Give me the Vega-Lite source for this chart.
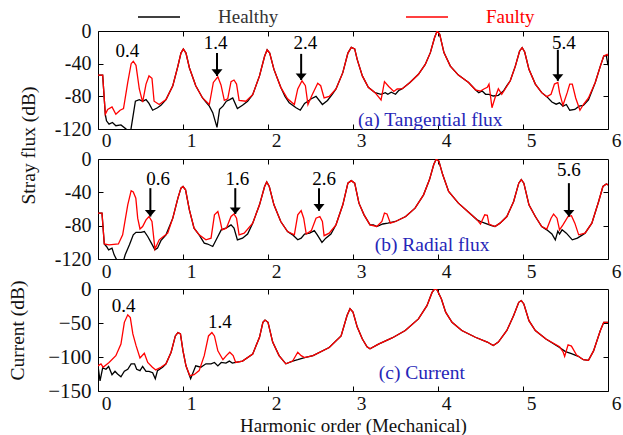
{
  "$schema": "https://vega.github.io/schema/vega-lite/v6.json",
  "background": "white",
  "padding": {"left": 6, "top": 7, "right": 0, "bottom": 0},
  "spacing": 30,
  "bounds": "flush",
  "config": {
    "font": "Liberation Serif",
    "view": {"stroke": "#000000", "strokeWidth": 1},
    "axis": {"domain": false, "grid": false, "ticks": true, "tickSize": -5, "tickColor": "#000000", "labelFont": "Liberation Serif", "labelFontSize": 19.5, "labelColor": "#111111", "titleFont": "Liberation Serif", "titleFontSize": 19.5, "titleFontWeight": "normal", "titleColor": "#111111"},
    "text": {"font": "Liberation Serif"}
  },
  "datasets": {
    "aF": [{"x":0,"y":-54},{"x":0.055,"y":-54},{"x":0.086,"y":-102},{"x":0.114,"y":-96},{"x":0.165,"y":-93},{"x":0.21,"y":-102},{"x":0.26,"y":-97},{"x":0.3,"y":-95},{"x":0.35,"y":-63},{"x":0.39,"y":-40},{"x":0.415,"y":-37},{"x":0.447,"y":-42},{"x":0.486,"y":-71},{"x":0.525,"y":-87},{"x":0.565,"y":-65},{"x":0.6,"y":-55},{"x":0.635,"y":-58},{"x":0.66,"y":-86},{"x":0.72,"y":-90},{"x":0.8,"y":-84},{"x":0.88,"y":-67},{"x":0.94,"y":-43},{"x":0.976,"y":-27},{"x":1.004,"y":-22},{"x":1.035,"y":-27},{"x":1.075,"y":-45},{"x":1.15,"y":-67},{"x":1.23,"y":-82},{"x":1.31,"y":-90},{"x":1.357,"y":-63},{"x":1.41,"y":-56},{"x":1.447,"y":-66},{"x":1.486,"y":-85},{"x":1.526,"y":-83},{"x":1.565,"y":-62},{"x":1.6,"y":-60},{"x":1.63,"y":-65},{"x":1.66,"y":-85},{"x":1.74,"y":-86},{"x":1.82,"y":-78},{"x":1.9,"y":-55},{"x":1.96,"y":-31},{"x":1.99,"y":-23},{"x":2.02,"y":-27},{"x":2.07,"y":-47},{"x":2.15,"y":-69},{"x":2.23,"y":-83},{"x":2.31,"y":-90},{"x":2.35,"y":-71},{"x":2.4,"y":-61},{"x":2.44,"y":-67},{"x":2.47,"y":-90},{"x":2.52,"y":-78},{"x":2.585,"y":-64},{"x":2.62,"y":-67},{"x":2.66,"y":-82},{"x":2.72,"y":-80},{"x":2.8,"y":-71},{"x":2.88,"y":-51},{"x":2.94,"y":-27},{"x":2.98,"y":-20},{"x":3.02,"y":-22},{"x":3.05,"y":-35},{"x":3.11,"y":-55},{"x":3.18,"y":-69},{"x":3.26,"y":-75.5},{"x":3.33,"y":-84.5},{"x":3.37,"y":-62},{"x":3.42,"y":-68},{"x":3.48,"y":-74},{"x":3.52,"y":-71},{"x":3.58,"y":-70.6},{"x":3.67,"y":-63},{"x":3.77,"y":-53},{"x":3.85,"y":-41},{"x":3.91,"y":-26.5},{"x":3.96,"y":-8},{"x":3.99,"y":0},{"x":4.02,"y":-4},{"x":4.07,"y":-26.5},{"x":4.145,"y":-43},{"x":4.24,"y":-54},{"x":4.36,"y":-63},{"x":4.44,"y":-72},{"x":4.5,"y":-73.5},{"x":4.54,"y":-71},{"x":4.58,"y":-69},{"x":4.6,"y":-65},{"x":4.635,"y":-94},{"x":4.67,"y":-82},{"x":4.71,"y":-70.6},{"x":4.75,"y":-77.5},{"x":4.79,"y":-71},{"x":4.85,"y":-61},{"x":4.91,"y":-43},{"x":4.96,"y":-24.5},{"x":4.99,"y":-20.4},{"x":5.02,"y":-25.7},{"x":5.07,"y":-47},{"x":5.145,"y":-65},{"x":5.22,"y":-75.5},{"x":5.28,"y":-80.4},{"x":5.33,"y":-77.5},{"x":5.37,"y":-65},{"x":5.41,"y":-63},{"x":5.43,"y":-75.5},{"x":5.47,"y":-91},{"x":5.52,"y":-75.5},{"x":5.55,"y":-65},{"x":5.58,"y":-65},{"x":5.62,"y":-82},{"x":5.67,"y":-97},{"x":5.71,"y":-90},{"x":5.77,"y":-82},{"x":5.85,"y":-63},{"x":5.91,"y":-43},{"x":5.95,"y":-30.6},{"x":5.99,"y":-28.6},{"x":6,"y":-31}],
    "aH": [{"x":0,"y":-54},{"x":0.055,"y":-54},{"x":0.086,"y":-102},{"x":0.1,"y":-110},{"x":0.13,"y":-114},{"x":0.17,"y":-112},{"x":0.21,"y":-116},{"x":0.27,"y":-115},{"x":0.33,"y":-120},{"x":0.36,"y":-126},{"x":0.385,"y":-122},{"x":0.44,"y":-86},{"x":0.486,"y":-84},{"x":0.525,"y":-86},{"x":0.565,"y":-84},{"x":0.6,"y":-88.6},{"x":0.643,"y":-97},{"x":0.7,"y":-94},{"x":0.74,"y":-91},{"x":0.8,"y":-84},{"x":0.88,"y":-67},{"x":0.94,"y":-43},{"x":0.976,"y":-27},{"x":1.004,"y":-22},{"x":1.035,"y":-27},{"x":1.075,"y":-45},{"x":1.15,"y":-67},{"x":1.23,"y":-82},{"x":1.27,"y":-87},{"x":1.31,"y":-92},{"x":1.35,"y":-100},{"x":1.4,"y":-118},{"x":1.43,"y":-96},{"x":1.47,"y":-92},{"x":1.51,"y":-86},{"x":1.55,"y":-84},{"x":1.585,"y":-82},{"x":1.64,"y":-95},{"x":1.7,"y":-91},{"x":1.76,"y":-86},{"x":1.82,"y":-78},{"x":1.9,"y":-55},{"x":1.96,"y":-31},{"x":1.99,"y":-23},{"x":2.02,"y":-27},{"x":2.07,"y":-47},{"x":2.15,"y":-69},{"x":2.2,"y":-80},{"x":2.25,"y":-88},{"x":2.33,"y":-94},{"x":2.38,"y":-97},{"x":2.43,"y":-88.6},{"x":2.47,"y":-86},{"x":2.51,"y":-83},{"x":2.565,"y":-80},{"x":2.64,"y":-90},{"x":2.7,"y":-85},{"x":2.76,"y":-77},{"x":2.8,"y":-71},{"x":2.88,"y":-51},{"x":2.94,"y":-27},{"x":2.98,"y":-20},{"x":3.02,"y":-22},{"x":3.05,"y":-35},{"x":3.11,"y":-55},{"x":3.18,"y":-69},{"x":3.26,"y":-75.5},{"x":3.33,"y":-77.5},{"x":3.38,"y":-75.5},{"x":3.41,"y":-77.5},{"x":3.45,"y":-75},{"x":3.5,"y":-77.5},{"x":3.54,"y":-72.6},{"x":3.58,"y":-70.6},{"x":3.67,"y":-63},{"x":3.77,"y":-53},{"x":3.85,"y":-41},{"x":3.91,"y":-26.5},{"x":3.96,"y":-8},{"x":3.99,"y":0},{"x":4.02,"y":-4},{"x":4.07,"y":-26.5},{"x":4.145,"y":-43},{"x":4.24,"y":-54},{"x":4.36,"y":-63},{"x":4.44,"y":-72},{"x":4.48,"y":-75.5},{"x":4.52,"y":-73.5},{"x":4.56,"y":-77.5},{"x":4.6,"y":-77.5},{"x":4.65,"y":-79.6},{"x":4.71,"y":-78.8},{"x":4.77,"y":-73.5},{"x":4.81,"y":-67},{"x":4.85,"y":-61},{"x":4.91,"y":-43},{"x":4.96,"y":-24.5},{"x":4.99,"y":-20.4},{"x":5.02,"y":-25.7},{"x":5.07,"y":-47},{"x":5.145,"y":-65},{"x":5.22,"y":-75.5},{"x":5.28,"y":-80.4},{"x":5.34,"y":-87},{"x":5.39,"y":-89.6},{"x":5.43,"y":-88},{"x":5.47,"y":-92},{"x":5.51,"y":-90},{"x":5.55,"y":-97},{"x":5.61,"y":-96},{"x":5.66,"y":-92},{"x":5.71,"y":-91},{"x":5.77,"y":-84.5},{"x":5.85,"y":-63},{"x":5.91,"y":-43},{"x":5.95,"y":-30.6},{"x":5.98,"y":-30},{"x":6,"y":-42}],
    "bF": [{"x":0,"y":-65},{"x":0.047,"y":-65},{"x":0.074,"y":-102},{"x":0.13,"y":-103},{"x":0.24,"y":-102},{"x":0.29,"y":-91},{"x":0.35,"y":-55},{"x":0.39,"y":-38},{"x":0.415,"y":-39.6},{"x":0.445,"y":-47},{"x":0.467,"y":-71},{"x":0.494,"y":-84},{"x":0.525,"y":-81},{"x":0.565,"y":-73},{"x":0.6,"y":-69},{"x":0.635,"y":-75},{"x":0.67,"y":-108},{"x":0.72,"y":-97},{"x":0.77,"y":-93},{"x":0.82,"y":-89},{"x":0.88,"y":-71},{"x":0.94,"y":-47},{"x":0.976,"y":-35},{"x":1,"y":-33},{"x":1.03,"y":-37},{"x":1.075,"y":-61},{"x":1.13,"y":-83},{"x":1.19,"y":-91},{"x":1.27,"y":-97},{"x":1.33,"y":-95},{"x":1.37,"y":-67},{"x":1.41,"y":-63},{"x":1.435,"y":-73},{"x":1.46,"y":-85},{"x":1.51,"y":-83},{"x":1.565,"y":-69},{"x":1.6,"y":-66},{"x":1.63,"y":-71},{"x":1.66,"y":-91},{"x":1.72,"y":-89},{"x":1.82,"y":-77},{"x":1.9,"y":-55},{"x":1.96,"y":-33},{"x":1.985,"y":-27.5},{"x":2.015,"y":-33},{"x":2.07,"y":-55},{"x":2.15,"y":-75},{"x":2.23,"y":-87},{"x":2.31,"y":-91},{"x":2.35,"y":-67},{"x":2.39,"y":-62},{"x":2.42,"y":-71},{"x":2.45,"y":-90},{"x":2.51,"y":-86},{"x":2.565,"y":-71},{"x":2.61,"y":-69},{"x":2.64,"y":-75},{"x":2.66,"y":-92},{"x":2.72,"y":-89},{"x":2.8,"y":-79},{"x":2.88,"y":-55},{"x":2.94,"y":-29},{"x":2.98,"y":-26},{"x":3.02,"y":-29},{"x":3.07,"y":-53},{"x":3.13,"y":-67},{"x":3.2,"y":-79},{"x":3.28,"y":-81},{"x":3.34,"y":-75},{"x":3.37,"y":-65},{"x":3.4,"y":-66},{"x":3.44,"y":-77},{"x":3.5,"y":-75},{"x":3.62,"y":-69},{"x":3.73,"y":-59},{"x":3.83,"y":-43},{"x":3.9,"y":-24.7},{"x":3.95,"y":-6.6},{"x":3.98,"y":0},{"x":4.01,"y":-2.6},{"x":4.055,"y":-18.7},{"x":4.125,"y":-39},{"x":4.24,"y":-53},{"x":4.36,"y":-64},{"x":4.46,"y":-73},{"x":4.5,"y":-78},{"x":4.55,"y":-67},{"x":4.58,"y":-67.5},{"x":4.6,"y":-78},{"x":4.67,"y":-81},{"x":4.73,"y":-77},{"x":4.81,"y":-69},{"x":4.89,"y":-51},{"x":4.95,"y":-29},{"x":4.98,"y":-24.7},{"x":5.01,"y":-29},{"x":5.07,"y":-55},{"x":5.145,"y":-69},{"x":5.22,"y":-81},{"x":5.28,"y":-84},{"x":5.33,"y":-71},{"x":5.36,"y":-66},{"x":5.4,"y":-71},{"x":5.43,"y":-85},{"x":5.47,"y":-79},{"x":5.53,"y":-69},{"x":5.57,"y":-68},{"x":5.61,"y":-77},{"x":5.655,"y":-91},{"x":5.73,"y":-89},{"x":5.81,"y":-77},{"x":5.89,"y":-51},{"x":5.94,"y":-33},{"x":5.98,"y":-30},{"x":6,"y":-31}],
    "bH": [{"x":0,"y":-65},{"x":0.047,"y":-65},{"x":0.074,"y":-102},{"x":0.1,"y":-105},{"x":0.125,"y":-109},{"x":0.165,"y":-107},{"x":0.19,"y":-115},{"x":0.22,"y":-121},{"x":0.26,"y":-128},{"x":0.3,"y":-122},{"x":0.32,"y":-115},{"x":0.37,"y":-103},{"x":0.415,"y":-91},{"x":0.447,"y":-88},{"x":0.506,"y":-88},{"x":0.545,"y":-87},{"x":0.585,"y":-93},{"x":0.623,"y":-100},{"x":0.67,"y":-109},{"x":0.7,"y":-107},{"x":0.74,"y":-98},{"x":0.8,"y":-91},{"x":0.88,"y":-71},{"x":0.94,"y":-47},{"x":0.976,"y":-35},{"x":1,"y":-33},{"x":1.03,"y":-37},{"x":1.075,"y":-61},{"x":1.13,"y":-83},{"x":1.19,"y":-91},{"x":1.25,"y":-101},{"x":1.29,"y":-102},{"x":1.35,"y":-105},{"x":1.41,"y":-93},{"x":1.45,"y":-85},{"x":1.51,"y":-82.6},{"x":1.565,"y":-79},{"x":1.6,"y":-83},{"x":1.64,"y":-97},{"x":1.7,"y":-95},{"x":1.76,"y":-90},{"x":1.82,"y":-77},{"x":1.9,"y":-55},{"x":1.96,"y":-33},{"x":1.985,"y":-27.5},{"x":2.015,"y":-33},{"x":2.07,"y":-55},{"x":2.15,"y":-75},{"x":2.23,"y":-87},{"x":2.29,"y":-91},{"x":2.35,"y":-97},{"x":2.39,"y":-95},{"x":2.43,"y":-90},{"x":2.49,"y":-89},{"x":2.545,"y":-86},{"x":2.58,"y":-91},{"x":2.635,"y":-100},{"x":2.68,"y":-95},{"x":2.74,"y":-90},{"x":2.8,"y":-79},{"x":2.88,"y":-55},{"x":2.94,"y":-29},{"x":2.98,"y":-26},{"x":3.02,"y":-29},{"x":3.07,"y":-53},{"x":3.13,"y":-67},{"x":3.2,"y":-79},{"x":3.24,"y":-79},{"x":3.28,"y":-81},{"x":3.35,"y":-78},{"x":3.41,"y":-77},{"x":3.5,"y":-75},{"x":3.62,"y":-69},{"x":3.73,"y":-59},{"x":3.83,"y":-43},{"x":3.9,"y":-24.7},{"x":3.95,"y":-6.6},{"x":3.98,"y":0},{"x":4.01,"y":-2.6},{"x":4.055,"y":-18.7},{"x":4.125,"y":-39},{"x":4.24,"y":-53},{"x":4.36,"y":-64},{"x":4.46,"y":-73},{"x":4.5,"y":-75},{"x":4.55,"y":-77},{"x":4.63,"y":-80},{"x":4.67,"y":-81},{"x":4.73,"y":-77},{"x":4.81,"y":-69},{"x":4.89,"y":-51},{"x":4.95,"y":-29},{"x":4.98,"y":-24.7},{"x":5.01,"y":-29},{"x":5.07,"y":-55},{"x":5.145,"y":-69},{"x":5.22,"y":-81},{"x":5.28,"y":-85},{"x":5.34,"y":-90},{"x":5.38,"y":-97},{"x":5.41,"y":-86.6},{"x":5.43,"y":-90},{"x":5.46,"y":-85},{"x":5.51,"y":-89},{"x":5.58,"y":-97},{"x":5.64,"y":-95},{"x":5.7,"y":-91},{"x":5.73,"y":-89},{"x":5.81,"y":-77},{"x":5.89,"y":-51},{"x":5.94,"y":-33},{"x":5.98,"y":-30},{"x":6,"y":-31}],
    "cF": [{"x":0,"y":-113},{"x":0.035,"y":-110},{"x":0.06,"y":-115},{"x":0.13,"y":-108},{"x":0.21,"y":-98},{"x":0.27,"y":-81},{"x":0.31,"y":-49},{"x":0.35,"y":-38},{"x":0.38,"y":-42},{"x":0.41,"y":-66},{"x":0.447,"y":-83},{"x":0.494,"y":-101.5},{"x":0.545,"y":-94.6},{"x":0.585,"y":-108},{"x":0.64,"y":-115},{"x":0.68,"y":-119},{"x":0.74,"y":-115},{"x":0.8,"y":-110},{"x":0.86,"y":-93},{"x":0.91,"y":-69},{"x":0.94,"y":-64},{"x":0.97,"y":-66},{"x":1,"y":-91},{"x":1.035,"y":-113},{"x":1.08,"y":-127.5},{"x":1.13,"y":-126},{"x":1.19,"y":-120},{"x":1.25,"y":-98},{"x":1.3,"y":-69},{"x":1.34,"y":-64},{"x":1.37,"y":-69},{"x":1.41,"y":-91},{"x":1.47,"y":-104},{"x":1.51,"y":-98},{"x":1.55,"y":-93},{"x":1.59,"y":-98},{"x":1.62,"y":-108},{"x":1.7,"y":-106},{"x":1.82,"y":-95.6},{"x":1.9,"y":-71},{"x":1.94,"y":-49},{"x":1.965,"y":-45.6},{"x":2,"y":-49},{"x":2.055,"y":-78},{"x":2.13,"y":-98},{"x":2.21,"y":-110},{"x":2.29,"y":-106},{"x":2.35,"y":-93},{"x":2.39,"y":-98},{"x":2.43,"y":-101},{"x":2.53,"y":-98},{"x":2.72,"y":-86},{"x":2.86,"y":-69},{"x":2.93,"y":-39},{"x":2.965,"y":-29},{"x":3,"y":-34},{"x":3.05,"y":-56},{"x":3.11,"y":-73.5},{"x":3.165,"y":-85},{"x":3.2,"y":-88},{"x":3.3,"y":-81},{"x":3.46,"y":-72},{"x":3.615,"y":-61},{"x":3.77,"y":-44},{"x":3.87,"y":-24.5},{"x":3.93,"y":-5},{"x":3.96,"y":0},{"x":3.99,"y":-1.5},{"x":4.04,"y":-14.7},{"x":4.09,"y":-34},{"x":4.165,"y":-49},{"x":4.28,"y":-61},{"x":4.44,"y":-71},{"x":4.58,"y":-78},{"x":4.65,"y":-83},{"x":4.71,"y":-78},{"x":4.81,"y":-61},{"x":4.89,"y":-39},{"x":4.95,"y":-19.6},{"x":4.98,"y":-17},{"x":5.01,"y":-22},{"x":5.07,"y":-46.6},{"x":5.145,"y":-61},{"x":5.27,"y":-73.5},{"x":5.43,"y":-85},{"x":5.47,"y":-92},{"x":5.49,"y":-99},{"x":5.53,"y":-82},{"x":5.57,"y":-84},{"x":5.63,"y":-97},{"x":5.71,"y":-104},{"x":5.77,"y":-105},{"x":5.83,"y":-91},{"x":5.91,"y":-61},{"x":5.95,"y":-49},{"x":6,"y":-49}],
    "cH": [{"x":0,"y":-113},{"x":0.024,"y":-135},{"x":0.055,"y":-116},{"x":0.094,"y":-118},{"x":0.125,"y":-114},{"x":0.165,"y":-126},{"x":0.2,"y":-121},{"x":0.23,"y":-125},{"x":0.27,"y":-129},{"x":0.31,"y":-121},{"x":0.35,"y":-118},{"x":0.39,"y":-110},{"x":0.43,"y":-110},{"x":0.455,"y":-118},{"x":0.494,"y":-120},{"x":0.525,"y":-114},{"x":0.565,"y":-121},{"x":0.6,"y":-121},{"x":0.643,"y":-123},{"x":0.674,"y":-132},{"x":0.7,"y":-120},{"x":0.76,"y":-115},{"x":0.8,"y":-110},{"x":0.86,"y":-93},{"x":0.91,"y":-69},{"x":0.94,"y":-64},{"x":0.97,"y":-66},{"x":1,"y":-91},{"x":1.035,"y":-113},{"x":1.09,"y":-132},{"x":1.15,"y":-113},{"x":1.21,"y":-115},{"x":1.27,"y":-110},{"x":1.33,"y":-110},{"x":1.37,"y":-108},{"x":1.41,"y":-113},{"x":1.45,"y":-108},{"x":1.505,"y":-109},{"x":1.545,"y":-106},{"x":1.58,"y":-109},{"x":1.62,"y":-108},{"x":1.7,"y":-106},{"x":1.82,"y":-95.6},{"x":1.9,"y":-71},{"x":1.94,"y":-49},{"x":1.965,"y":-45.6},{"x":2,"y":-49},{"x":2.055,"y":-78},{"x":2.13,"y":-98},{"x":2.21,"y":-110},{"x":2.29,"y":-106},{"x":2.35,"y":-104},{"x":2.43,"y":-101},{"x":2.53,"y":-98},{"x":2.72,"y":-86},{"x":2.86,"y":-69},{"x":2.93,"y":-39},{"x":2.965,"y":-29},{"x":3,"y":-34},{"x":3.05,"y":-56},{"x":3.11,"y":-73.5},{"x":3.165,"y":-85},{"x":3.2,"y":-88},{"x":3.3,"y":-81},{"x":3.46,"y":-72},{"x":3.615,"y":-61},{"x":3.77,"y":-44},{"x":3.87,"y":-24.5},{"x":3.93,"y":-5},{"x":3.96,"y":0},{"x":3.99,"y":-1.5},{"x":4.04,"y":-14.7},{"x":4.09,"y":-34},{"x":4.165,"y":-49},{"x":4.28,"y":-61},{"x":4.44,"y":-71},{"x":4.58,"y":-78},{"x":4.65,"y":-83},{"x":4.71,"y":-78},{"x":4.81,"y":-61},{"x":4.89,"y":-39},{"x":4.95,"y":-19.6},{"x":4.98,"y":-17},{"x":5.01,"y":-22},{"x":5.07,"y":-46.6},{"x":5.145,"y":-61},{"x":5.27,"y":-73.5},{"x":5.43,"y":-86},{"x":5.5,"y":-92},{"x":5.57,"y":-95},{"x":5.65,"y":-99},{"x":5.71,"y":-104},{"x":5.77,"y":-105},{"x":5.83,"y":-91},{"x":5.91,"y":-61},{"x":5.95,"y":-49},{"x":6,"y":-49}],
    "ar": [{"p":"a","x":1.4,"t":-27,"b":-55},{"p":"a","x":2.39,"t":-28,"b":-60},{"p":"a","x":5.41,"t":-23,"b":-61},{"p":"b","x":0.616,"t":-35,"b":-69},{"p":"b","x":1.615,"t":-35,"b":-66},{"p":"b","x":2.6,"t":-35,"b":-62},{"p":"b","x":5.54,"t":-29,"b":-69}],
    "tx": [{"p":"a","x":0.345,"y":-24.5,"t":"0.4"},{"p":"a","x":1.385,"y":-15,"t":"1.4"},{"p":"a","x":2.44,"y":-15,"t":"2.4"},{"p":"a","x":5.48,"y":-15,"t":"5.4"},{"p":"b","x":0.706,"y":-23.5,"t":"0.6"},{"p":"b","x":1.64,"y":-23.5,"t":"1.6"},{"p":"b","x":2.66,"y":-23.5,"t":"2.6"},{"p":"b","x":5.54,"y":-12.7,"t":"5.6"},{"p":"c","x":0.3,"y":-24.5,"t":"0.4"},{"p":"c","x":1.435,"y":-49,"t":"1.4"}],
    "pl": [{"p":"a","x":3.91,"y":-109,"t":"(a) Tangential flux"},{"p":"b","x":3.93,"y":-103,"t":"(b) Radial flux"},{"p":"c","x":3.81,"y":-124,"t":"(c) Current"}]
  },
  "vconcat": [
    {
      "width": 510, "height": 98,
      "resolve": {"axis": {"x": "independent", "y": "independent"}},
      "layer": [
        {"data": {"name": "aH"}, "mark": {"type": "line", "clip": true, "strokeWidth": 1.3},
         "encoding": {
           "x": {"field": "x", "type": "quantitative", "scale": {"domain": [0, 6], "nice": false, "zero": false}, "axis": {"values": [0,1,2,3,4,5,6], "title": null, "labelOffset": 8, "labelFlush": false, "labelBaseline": "alphabetic", "labelPadding": 22}},
           "y": {"field": "y", "type": "quantitative", "scale": {"domain": [-120, 0], "nice": false, "zero": false}, "axis": {"values": [0,-40,-80,-120], "labelExpr": "toString(datum.value)", "labelFontSize": 20, "labelPadding": 12, "title": "Stray flux (dB)", "titleX": -60, "titleY": 114}},
           "color": {"datum": "Healthy", "type": "nominal", "scale": {"domain": ["Healthy", "Faulty"], "range": ["#000000", "#ff0000"]},
             "legend": {"orient": "none", "legendX": 39, "legendY": -24, "direction": "horizontal", "title": null, "symbolType": "stroke", "symbolSize": 1764, "symbolStrokeWidth": 1.3, "clipHeight": 20, "labelFont": "Liberation Serif", "labelFontSize": 19, "labelOffset": 37, "columnPadding": 126, "padding": 0,
               "encode": {"labels": {"update": {"fill": {"signal": "datum.value === 'Faulty' ? '#ff0000' : '#333333'"}}}}}}
         }},
        {"data": {"name": "aF"}, "mark": {"type": "line", "clip": true, "strokeWidth": 1.3},
         "encoding": {
           "x": {"field": "x", "type": "quantitative", "scale": {"domain": [0, 6], "nice": false, "zero": false}, "axis": {"orient": "top", "values": [1,2,3,4,5], "labels": false, "title": null}},
           "y": {"field": "y", "type": "quantitative", "scale": {"domain": [-120, 0], "nice": false, "zero": false}, "axis": {"orient": "right", "values": [-40,-80], "labels": false, "title": null}},
           "color": {"datum": "Faulty", "type": "nominal"}
         }},
        {"data": {"name": "ar"}, "transform": [{"filter": "datum.p == 'a'"}], "mark": {"type": "rule", "strokeWidth": 2, "color": "#000000"},
         "encoding": {"x": {"field": "x", "type": "quantitative", "axis": null}, "y": {"field": "t", "type": "quantitative", "axis": null}, "y2": {"field": "b"}}},
        {"data": {"name": "ar"}, "transform": [{"filter": "datum.p == 'a'"}], "mark": {"type": "point", "shape": "M-1,-1.2L1,-1.2L0,0Z", "filled": true, "size": 121, "color": "#000000", "opacity": 1},
         "encoding": {"x": {"field": "x", "type": "quantitative", "axis": null}, "y": {"field": "b", "type": "quantitative", "axis": null}}},
        {"data": {"name": "tx"}, "transform": [{"filter": "datum.p == 'a'"}], "mark": {"type": "text", "fontSize": 19, "color": "#000000"},
         "encoding": {"x": {"field": "x", "type": "quantitative", "axis": null}, "y": {"field": "y", "type": "quantitative", "axis": null}, "text": {"field": "t"}}},
        {"data": {"name": "pl"}, "transform": [{"filter": "datum.p == 'a'"}], "mark": {"type": "text", "fontSize": 19.5, "color": "#2626b8"},
         "encoding": {"x": {"field": "x", "type": "quantitative", "axis": null}, "y": {"field": "y", "type": "quantitative", "axis": null}, "text": {"field": "t"}}}
      ]
    },
    {
      "width": 510, "height": 100,
      "resolve": {"axis": {"x": "independent", "y": "independent"}},
      "layer": [
        {"data": {"name": "bH"}, "mark": {"type": "line", "clip": true, "strokeWidth": 1.3, "color": "#000000"},
         "encoding": {
           "x": {"field": "x", "type": "quantitative", "scale": {"domain": [0, 6], "nice": false, "zero": false}, "axis": {"values": [0,1,2,3,4,5,6], "title": null, "labelOffset": 8, "labelFlush": false, "labelBaseline": "alphabetic", "labelPadding": 23}},
           "y": {"field": "y", "type": "quantitative", "scale": {"domain": [-120, 0], "nice": false, "zero": false}, "axis": {"values": [0,-40,-80,-120], "labelExpr": "toString(datum.value)", "labelFontSize": 20, "labelPadding": 12, "title": null}}
         }},
        {"data": {"name": "bF"}, "mark": {"type": "line", "clip": true, "strokeWidth": 1.3, "color": "#ff0000"},
         "encoding": {
           "x": {"field": "x", "type": "quantitative", "scale": {"domain": [0, 6], "nice": false, "zero": false}, "axis": {"orient": "top", "values": [1,2,3,4,5], "labels": false, "title": null}},
           "y": {"field": "y", "type": "quantitative", "scale": {"domain": [-120, 0], "nice": false, "zero": false}, "axis": {"orient": "right", "values": [-40,-80], "labels": false, "title": null}}
         }},
        {"data": {"name": "ar"}, "transform": [{"filter": "datum.p == 'b'"}], "mark": {"type": "rule", "strokeWidth": 2, "color": "#000000"},
         "encoding": {"x": {"field": "x", "type": "quantitative", "axis": null}, "y": {"field": "t", "type": "quantitative", "axis": null}, "y2": {"field": "b"}}},
        {"data": {"name": "ar"}, "transform": [{"filter": "datum.p == 'b'"}], "mark": {"type": "point", "shape": "M-1,-1.2L1,-1.2L0,0Z", "filled": true, "size": 121, "color": "#000000", "opacity": 1},
         "encoding": {"x": {"field": "x", "type": "quantitative", "axis": null}, "y": {"field": "b", "type": "quantitative", "axis": null}}},
        {"data": {"name": "tx"}, "transform": [{"filter": "datum.p == 'b'"}], "mark": {"type": "text", "fontSize": 19, "color": "#000000"},
         "encoding": {"x": {"field": "x", "type": "quantitative", "axis": null}, "y": {"field": "y", "type": "quantitative", "axis": null}, "text": {"field": "t"}}},
        {"data": {"name": "pl"}, "transform": [{"filter": "datum.p == 'b'"}], "mark": {"type": "text", "fontSize": 19.5, "color": "#2626b8"},
         "encoding": {"x": {"field": "x", "type": "quantitative", "axis": null}, "y": {"field": "y", "type": "quantitative", "axis": null}, "text": {"field": "t"}}}
      ]
    },
    {
      "width": 510, "height": 102,
      "resolve": {"axis": {"x": "independent", "y": "independent"}},
      "layer": [
        {"data": {"name": "cH"}, "mark": {"type": "line", "clip": true, "strokeWidth": 1.3, "color": "#000000"},
         "encoding": {
           "x": {"field": "x", "type": "quantitative", "scale": {"domain": [0, 6], "nice": false, "zero": false}, "axis": {"values": [0,1,2,3,4,5,6], "title": "Harmonic order (Mechanical)", "titleFontSize": 19, "titleBaseline": "alphabetic", "titleY": 40, "labelOffset": 8, "labelFlush": false, "labelBaseline": "alphabetic", "labelPadding": 23}},
           "y": {"field": "y", "type": "quantitative", "scale": {"domain": [-150, 0], "nice": false, "zero": false}, "axis": {"values": [0,-50,-100,-150], "labelExpr": "datum.value < 0 ? '\u2212' + toString(-datum.value) : '0'", "labelFontSize": 21, "labelPadding": 12, "title": "Current (dB)", "titleX": -71, "titleY": 41}}
         }},
        {"data": {"name": "cF"}, "mark": {"type": "line", "clip": true, "strokeWidth": 1.3, "color": "#ff0000"},
         "encoding": {
           "x": {"field": "x", "type": "quantitative", "scale": {"domain": [0, 6], "nice": false, "zero": false}, "axis": {"orient": "top", "values": [1,2,3,4,5], "labels": false, "title": null}},
           "y": {"field": "y", "type": "quantitative", "scale": {"domain": [-150, 0], "nice": false, "zero": false}, "axis": {"orient": "right", "values": [-50,-100], "labels": false, "title": null}}
         }},
        {"data": {"name": "tx"}, "transform": [{"filter": "datum.p == 'c'"}], "mark": {"type": "text", "fontSize": 19, "color": "#000000"},
         "encoding": {"x": {"field": "x", "type": "quantitative", "axis": null}, "y": {"field": "y", "type": "quantitative", "axis": null}, "text": {"field": "t"}}},
        {"data": {"name": "pl"}, "transform": [{"filter": "datum.p == 'c'"}], "mark": {"type": "text", "fontSize": 19.5, "color": "#2626b8"},
         "encoding": {"x": {"field": "x", "type": "quantitative", "axis": null}, "y": {"field": "y", "type": "quantitative", "axis": null}, "text": {"field": "t"}}}
      ]
    }
  ]
}
